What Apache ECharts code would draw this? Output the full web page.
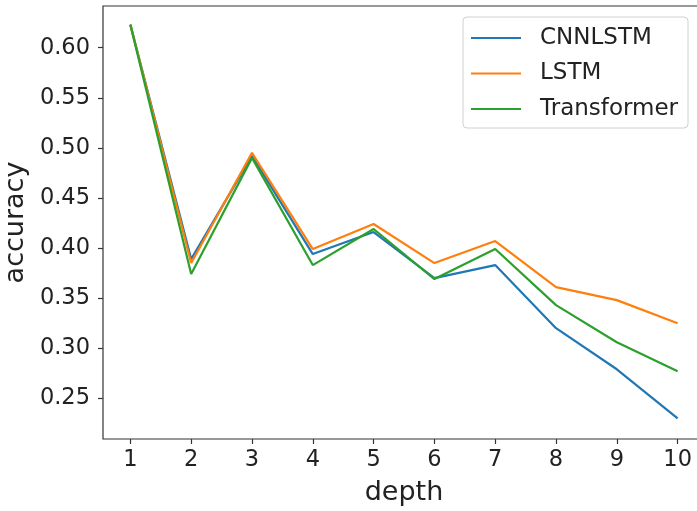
<!DOCTYPE html>
<html>
<head>
<meta charset="utf-8">
<script src="https://cdn.jsdelivr.net/npm/echarts@6/dist/echarts.min.js"></script>
<style>
  html, body { margin: 0; padding: 0; background: #fff; }
  #container { width: 697px; height: 511px; }
</style>
</head>
<body>
<div id="container"></div>
<script>
// depth on x, accuracy on y
var depths = [1, 2, 3, 4, 5, 6, 7, 8, 9, 10];
var cnnlstm = [0.623, 0.389, 0.492, 0.394, 0.416, 0.370, 0.383, 0.320, 0.279, 0.230];
var lstm = [0.623, 0.385, 0.495, 0.399, 0.424, 0.385, 0.407, 0.361, 0.348, 0.325];
var transformer = [0.623, 0.374, 0.490, 0.383, 0.419, 0.369, 0.399, 0.343, 0.306, 0.277];
var yTicks = [0.25, 0.30, 0.35, 0.40, 0.45, 0.50, 0.55, 0.60];

var font = 'DejaVu Sans';

function pairs(vals) {
    return depths.map(function(d, i) { return [d, vals[i]]; });
}

function makeSeries(name, vals, color) {
    return {
        name: name,
        type: 'line',
        data: pairs(vals),
        symbol: 'none',
        lineStyle: { color: color, width: 2.2 },
        itemStyle: { color: color },
        animation: false
    };
}

var myChart = echarts.init(document.getElementById('container'), null, { renderer: 'canvas' });

var option = {
    backgroundColor: '#fff',
    animation: false,
    grid: {
        left: 103,
        top: 6,
        right: -8,
        bottom: 72,
        containLabel: false,
        outerBoundsMode: 'none',
        show: true,
        borderColor: '#333',
        borderWidth: 1.2,
        backgroundColor: 'transparent'
    },
    legend: {
        orient: 'vertical',
        left: 463,
        top: 17,
        padding: [8, 10, 6, 8],
        itemWidth: 50,
        itemHeight: 14,
        itemGap: 9.5,
        icon: 'path://M0,6L50,6L50,8L0,8Z',
        borderColor: '#d0d0d0',
        borderWidth: 1,
        borderRadius: 4,
        backgroundColor: 'rgba(255,255,255,0.8)',
        textStyle: {
            fontFamily: font,
            fontSize: 23,
            color: '#222',
            lineHeight: 26,
            padding: [0, 0, 0, 14]
        },
        data: ['CNNLSTM', 'LSTM', 'Transformer']
    },
    xAxis: {
        type: 'value',
        min: 0.55,
        max: 10.45,
        name: 'depth',
        nameLocation: 'middle',
        nameGap: 40,
        nameTextStyle: { fontFamily: font, fontSize: 27, color: '#222' },
        splitLine: { show: false },
        axisLine: { show: false },
        axisTick: {
            show: true,
            inside: false,
            length: 5,
            customValues: depths,
            lineStyle: { color: '#333', width: 1.2 }
        },
        axisLabel: {
            margin: 10,
            customValues: depths,
            fontFamily: font,
            fontSize: 22.5,
            color: '#222'
        }
    },
    yAxis: {
        type: 'value',
        min: 0.2094,
        max: 0.6416,
        name: 'accuracy',
        nameLocation: 'middle',
        nameGap: 65,
        nameRotate: 90,
        nameTextStyle: { fontFamily: font, fontSize: 27, color: '#222' },
        splitLine: { show: false },
        axisLine: { show: false },
        axisTick: {
            show: true,
            inside: false,
            length: 5,
            customValues: yTicks,
            lineStyle: { color: '#333', width: 1.2 }
        },
        axisLabel: {
            margin: 13,
            customValues: yTicks,
            fontFamily: font,
            fontSize: 22.5,
            color: '#222',
            formatter: function(v) { return v.toFixed(2); }
        }
    },
    series: [
        makeSeries('CNNLSTM', cnnlstm, '#1f77b4'),
        makeSeries('LSTM', lstm, '#ff7f0e'),
        makeSeries('Transformer', transformer, '#2ca02c')
    ]
};

myChart.setOption(option);
</script>
</body>
</html>
